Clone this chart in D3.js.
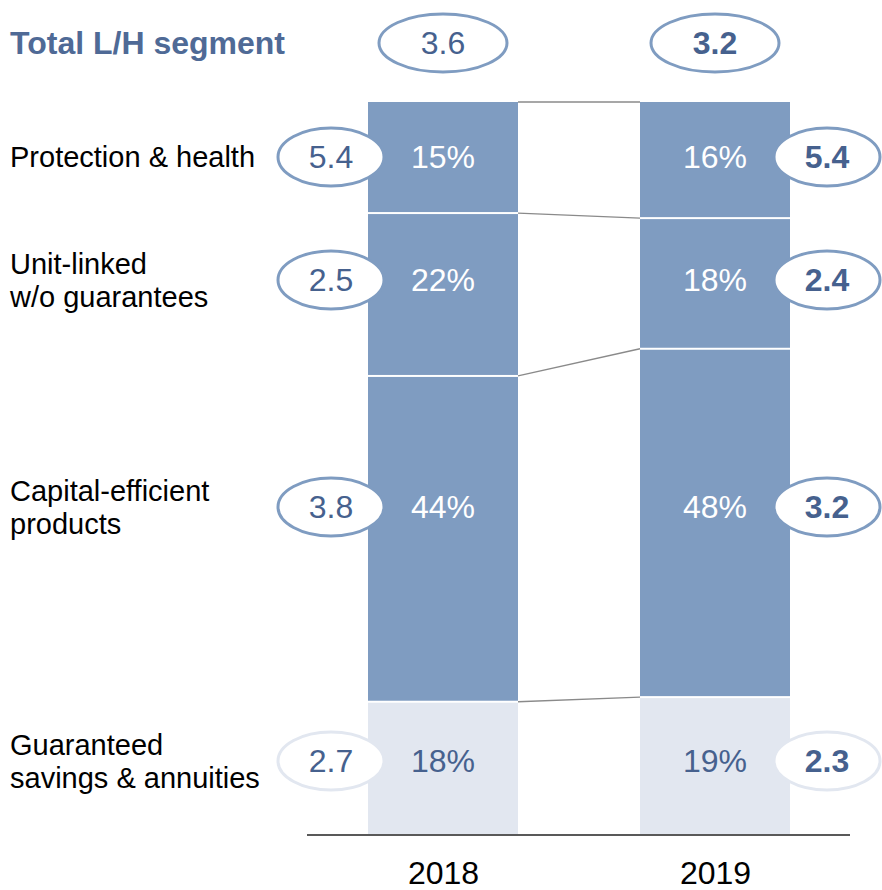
<!DOCTYPE html>
<html>
<head>
<meta charset="utf-8">
<script src="https://cdn.jsdelivr.net/npm/d3@7"></script>
<style>
  body { margin: 0; background: #fff; }
  text { font-family: "Liberation Sans", Arial, sans-serif; }
</style>
</head>
<body>
<div id="chart"></div>
<script>
// ---- data ----
const years = ["2018", "2019"];
const categories = ["guaranteed", "capital", "unitlinked", "protection"]; // bottom -> top
const categoryLabels = {
  protection: ["Protection & health"],
  unitlinked: ["Unit-linked", "w/o guarantees"],
  capital: ["Capital-efficient", "products"],
  guaranteed: ["Guaranteed", "savings & annuities"]
};
const share2018 = [18, 44, 22, 15];
const share2019 = [19, 48, 18, 16];
const margin2018 = [2.7, 3.8, 2.5, 5.4];
const margin2019 = [2.3, 3.2, 2.4, 5.4];
const totalMargin = [3.6, 3.2];
const titleText = "Total L/H segment";

// ---- layout ----
const width = 882, height = 890;
const barWidth = 150;
const rowY = { protection: 157, unitlinked: 280, capital: 507, guaranteed: 761 };
const darkFill = "#7f9cc1", lightFill = "#e2e7f0";
const blueText = "#46618e";
const numSize = 32;

const table = years.map((yr, i) => {
  const row = { year: yr };
  const s = i === 0 ? share2018 : share2019;
  categories.forEach((c, j) => row[c] = s[j]);
  return row;
});
const margins = { "2018": margin2018, "2019": margin2019 };

const svg = d3.select("#chart").append("svg")
  .attr("width", width).attr("height", height);

const x = d3.scalePoint().domain(years).range([443, 715]);
const y = d3.scaleLinear().domain([0, 1]).range([835, 102]);

const series = d3.stack().keys(categories).offset(d3.stackOffsetExpand)(table);

// connectors between bar segment tops
const connectors = series.map(s => ({ y0: y(s[0][1]), y1: y(s[1][1]) }));
svg.append("g").selectAll("line").data(connectors).join("line")
  .attr("x1", x("2018") + barWidth / 2)
  .attr("x2", x("2019") - barWidth / 2)
  .attr("y1", d => d.y0).attr("y2", d => d.y1)
  .attr("stroke", "#8a8a8a").attr("stroke-width", 1.3);

// bars
const layers = svg.append("g").selectAll("g").data(series).join("g")
  .attr("fill", d => d.key === "guaranteed" ? lightFill : darkFill);
layers.selectAll("rect").data(d => d.map(p => ({ key: d.key, year: p.data.year, v0: p[0], v1: p[1] })))
  .join("rect")
  .attr("x", d => x(d.year) - barWidth / 2)
  .attr("width", barWidth)
  .attr("y", d => y(d.v1) + (d.key === "protection" ? 0 : 1))
  .attr("height", d => y(d.v0) - y(d.v1) - (d.key === "protection" ? 1 : 2));

// percent labels
layers.selectAll("text").data(d => d.map(p => ({ key: d.key, year: p.data.year, v: p.data[d.key] })))
  .join("text")
  .attr("x", d => x(d.year))
  .attr("y", d => rowY[d.key])
  .attr("dy", "0.35em")
  .attr("text-anchor", "middle")
  .attr("font-size", numSize)
  .attr("fill", d => d.key === "guaranteed" ? blueText : "#fff")
  .text(d => d.v + "%");

// margin ellipses at the sides
const bubbles = [];
years.forEach((yr, i) => {
  categories.forEach((c, j) => {
    bubbles.push({ key: c, year: yr, side: i === 0 ? -1 : 1, value: margins[yr][j], bold: i === 1 });
  });
});
const bub = svg.append("g").selectAll("g").data(bubbles).join("g")
  .attr("transform", d => `translate(${x(d.year) + d.side * 112},${rowY[d.key]})`);
bub.append("ellipse")
  .attr("rx", 53).attr("ry", 29)
  .attr("fill", "#fff")
  .attr("stroke", d => d.key === "guaranteed" ? lightFill : darkFill)
  .attr("stroke-width", 3);
bub.append("text")
  .attr("dy", "0.35em")
  .attr("text-anchor", "middle")
  .attr("font-size", numSize)
  .attr("font-weight", d => d.bold ? "bold" : "normal")
  .attr("fill", blueText)
  .text(d => d3.format(".1f")(d.value));

// totals on top
const tot = svg.append("g").selectAll("g").data(years.map((yr, i) => ({ year: yr, value: totalMargin[i], bold: i === 1 })))
  .join("g")
  .attr("transform", d => `translate(${x(d.year)},43)`);
tot.append("ellipse")
  .attr("rx", 64).attr("ry", 29)
  .attr("fill", "#fff")
  .attr("stroke", darkFill)
  .attr("stroke-width", 3);
tot.append("text")
  .attr("dy", "0.35em")
  .attr("text-anchor", "middle")
  .attr("font-size", numSize)
  .attr("font-weight", d => d.bold ? "bold" : "normal")
  .attr("fill", blueText)
  .text(d => d3.format(".1f")(d.value));

svg.append("text")
  .attr("x", 10).attr("y", 43).attr("dy", "0.35em")
  .attr("font-size", 32).attr("font-weight", "bold")
  .attr("fill", "#4f6a96")
  .text(titleText);

// row labels on the left
const rowLabels = svg.append("g").selectAll("text").data(categories).join("text")
  .attr("x", 10)
  .attr("y", d => rowY[d] - (categoryLabels[d].length - 1) * 16.5)
  .attr("font-size", 29)
  .attr("fill", "#000");
rowLabels.selectAll("tspan").data(d => categoryLabels[d]).join("tspan")
  .attr("x", 10)
  .attr("dy", (d, i) => i === 0 ? "0.35em" : 33)
  .text(d => d);

// baseline and x axis
svg.append("line")
  .attr("x1", 307).attr("x2", 850)
  .attr("y1", y(0)).attr("y2", y(0))
  .attr("stroke", "#222").attr("stroke-width", 1.5);

const xAxis = svg.append("g")
  .attr("transform", `translate(0,${y(0)})`)
  .call(d3.axisBottom(x).tickSize(0).tickPadding(26));
xAxis.select(".domain").remove();
xAxis.selectAll("text")
  .attr("font-size", numSize)
  .attr("fill", "#000")
  .style("font-family", "'Liberation Sans', Arial, sans-serif");
</script>
</body>
</html>
